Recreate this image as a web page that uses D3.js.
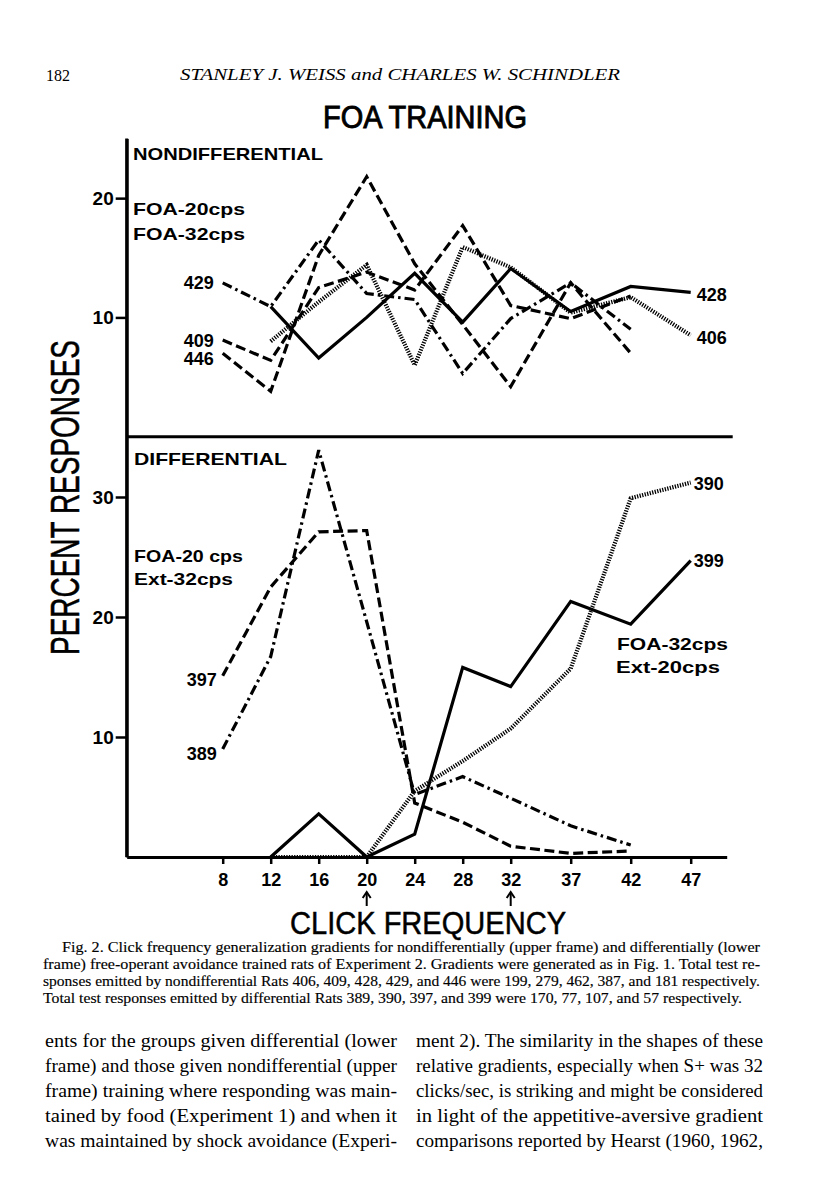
<!DOCTYPE html>
<html><head><meta charset="utf-8">
<script src="https://cdn.jsdelivr.net/npm/d3@7/dist/d3.min.js"></script>
<style>
html,body{margin:0;padding:0;background:#fff;}
svg{display:block;}
</style></head>
<body>
<script>
// ---------- DATA ----------
const freqs = [8, 12, 16, 20, 24, 28, 32, 37, 42, 47];
const xTickLabels = ["8","12","16","20","24","28","32","37","42","47"];
const arrowFreqs = [20, 32];
const upperYTicks = [10, 20];
const lowerYTicks = [10, 20, 30];

// Upper frame: nondifferential rats (percent responses)
const rat428 = [null, 10.9, 6.6, 10.0, 13.7, 9.6, 14.1, 10.5, 12.6, 12.1];
const rat406 = [null, 8.0, 11.3, 14.4, 6.0, 15.9, 14.2, 10.4, 11.7, 8.5];
const rat429 = [12.9, 10.9, 16.5, 12.0, 11.5, 5.3, 9.9, 12.9, 9.0, null];
const rat409 = [8.1, 6.4, 12.5, 13.8, 12.3, 17.7, 11.0, 9.9, 11.8, null];
const rat446 = [7.0, 3.8, 15.2, 21.8, 14.5, 9.4, 4.2, 12.9, 7.0, null];

// Lower frame: differential rats
const rat397 = [15.1, 22.5, 27.1, 27.2, 4.5, 2.9, 0.9, 0.3, 0.5, null];
const rat389 = [9.0, 16.7, 33.9, 19.6, 5.2, 6.7, 4.9, 2.6, 1.0, null];
const rat399 = [null, 0, 3.6, 0, 1.9, 15.8, 14.2, 21.3, 19.4, 24.7];
const rat390 = [null, 0, 0, 0, 5.5, 8.0, 10.7, 15.7, 29.9, 31.2];

const captionLines = [
  "Fig. 2. Click frequency generalization gradients for nondifferentially (upper frame) and differentially (lower",
  "frame) free-operant avoidance trained rats of Experiment 2. Gradients were generated as in Fig. 1. Total test re-",
  "sponses emitted by nondifferential Rats 406, 409, 428, 429, and 446 were 199, 279, 462, 387, and 181 respectively.",
  "Total test responses emitted by differential Rats 389, 390, 397, and 399 were 170, 77, 107, and 57 respectively."
];
const leftColumn = [
  "ents for the groups given differential (lower",
  "frame) and those given nondifferential (upper",
  "frame) training where responding was main-",
  "tained by food (Experiment 1) and when it",
  "was maintained by shock avoidance (Experi-"
];
const rightColumn = [
  "ment 2). The similarity in the shapes of these",
  "relative gradients, especially when S+ was 32",
  "clicks/sec, is striking and might be considered",
  "in light of the appetitive-aversive gradient",
  "comparisons reported by Hearst (1960, 1962,"
];

// ---------- DRAWING ----------
const W = 816, H = 1200;
const svg = d3.select("body").append("svg").attr("width", W).attr("height", H);
const SANS = "'Liberation Sans', Arial, sans-serif";
const SERIF = "'Liberation Serif', 'Times New Roman', serif";

const x = d3.scaleLinear().domain([0, 50]).range([126.7, 726.7]);
const yU = d3.scaleLinear().domain([0, 25]).range([436.7, 138.5]);
const yL = d3.scaleLinear().domain([0, 35]).range([857, 437]);

const styles = {
  solid:   {dash: null,           w: 3.2},
  dashed:  {dash: "10,4.5",       w: 3.2},
  dashdot: {dash: "10,4,2.5,4",   w: 3.2},
  dotted:  {dash: "1.3,1.3",      w: 4.2}
};

function drawSeries(vals, yScale, style) {
  const pts = freqs.map((f, i) => ({f, v: vals[i]}));
  const line = d3.line().defined(d => d.v != null)
    .x(d => x(d.f)).y(d => yScale(d.v));
  const st = styles[style];
  svg.append("path").datum(pts)
    .attr("d", line)
    .attr("fill", "none")
    .attr("stroke", "#000")
    .attr("stroke-width", st.w)
    .attr("stroke-linejoin", "miter")
    .attr("stroke-dasharray", st.dash);
}

// Axes
const gU = svg.append("g").attr("transform", `translate(${x(0)},0)`)
  .call(d3.axisLeft(yU).tickValues(upperYTicks).tickSize(11).tickPadding(2).tickSizeOuter(0));
const gL = svg.append("g").attr("transform", `translate(${x(0)},0)`)
  .call(d3.axisLeft(yL).tickValues(lowerYTicks).tickSize(11).tickPadding(2).tickSizeOuter(0));
const gX = svg.append("g").attr("transform", `translate(0,${yL(0)})`)
  .call(d3.axisBottom(x).tickValues(freqs).tickFormat((d, i) => xTickLabels[i])
    .tickSize(7).tickPadding(9).tickSizeOuter(0));
[gU, gL, gX].forEach(g => {
  g.selectAll("path.domain").attr("stroke", "#000").attr("stroke-width", 3);
  g.selectAll(".tick line").attr("stroke", "#000").attr("stroke-width", 2.5);
  g.selectAll("text").attr("fill", "#000").attr("font-family", SANS)
    .attr("font-weight", "bold").attr("font-size", 19);
});
gX.selectAll("text").attr("font-size", 18);
// extend left axis to top and divider
svg.append("line").attr("x1", x(0)).attr("x2", x(0)).attr("y1", yU(25)).attr("y2", yL(0))
  .attr("stroke", "#000").attr("stroke-width", 3);
svg.append("line").attr("x1", x(0)).attr("x2", x(50.5)).attr("y1", yU(0)).attr("y2", yU(0))
  .attr("stroke", "#000").attr("stroke-width", 3);

// Series
drawSeries(rat428, yU, "solid");
drawSeries(rat406, yU, "dotted");
drawSeries(rat429, yU, "dashdot");
drawSeries(rat409, yU, "dashed");
drawSeries(rat446, yU, "dashed");
drawSeries(rat397, yL, "dashed");
drawSeries(rat389, yL, "dashdot");
drawSeries(rat399, yL, "solid");
drawSeries(rat390, yL, "dotted");

function txt(t, px, py, o = {}) {
  const el = svg.append("text").attr("x", px).attr("y", py).text(t)
    .attr("font-family", o.family || SANS)
    .attr("font-size", o.size || 17)
    .attr("font-weight", o.weight || "bold")
    .attr("font-style", o.style || "normal")
    .attr("text-anchor", o.anchor || "start")
    .attr("fill", "#000");
  if (o.len) el.attr("textLength", o.len).attr("lengthAdjust", o.adj || "spacingAndGlyphs");
  if (o.rot) el.attr("transform", `rotate(${o.rot},${px},${py})`);
  if (o.thick) el.attr("stroke", "#000").attr("stroke-width", o.thick);
  return el;
}

// Series labels
const i8 = 0, i47 = 9;
txt("429", x(8) - 9, yU(rat429[i8]) + 6, {anchor: "end", size: 18});
txt("409", x(8) - 9, yU(rat409[i8]) + 7, {anchor: "end", size: 18});
txt("446", x(8) - 9, yU(rat446[i8]) + 12, {anchor: "end", size: 18});
txt("428", x(47) + 6, yU(rat428[i47]) + 9, {size: 18});
txt("406", x(47) + 6, yU(rat406[i47]) + 9, {size: 18});
txt("397", x(8) - 6, yL(rat397[i8]) + 10, {anchor: "end", size: 18});
txt("389", x(8) - 6, yL(rat389[i8]) + 11, {anchor: "end", size: 18});
txt("390", x(47) + 3, yL(rat390[i47]) + 7, {size: 18});
txt("399", x(47) + 3, yL(rat399[i47]) + 6, {size: 18});

// Frame annotations
txt("NONDIFFERENTIAL", 133, 160, {size: 17, len: 190});
txt("FOA-20cps", 133, 215, {size: 17, len: 112});
txt("FOA-32cps", 133, 240, {size: 17, len: 112});
txt("DIFFERENTIAL", 134, 465, {size: 17, len: 153});
txt("FOA-20 cps", 134, 562, {size: 17, len: 109});
txt("Ext-32cps", 134, 585, {size: 17, len: 99});
txt("FOA-32cps", 617, 650, {size: 17, len: 111});
txt("Ext-20cps", 616, 673, {size: 17, len: 104});

// Arrows under 20 and 32
arrowFreqs.forEach(f => {
  const cx = x(f);
  svg.append("line").attr("x1", cx).attr("x2", cx).attr("y1", 893).attr("y2", 906)
    .attr("stroke", "#000").attr("stroke-width", 2);
  svg.append("path").attr("d", `M${cx - 4},${898} L${cx},${892} L${cx + 4},${898}`)
    .attr("fill", "none").attr("stroke", "#000").attr("stroke-width", 2);
});

// Axis titles & heading
txt("CLICK FREQUENCY", 290, 934, {size: 32, weight: "normal", len: 276, thick: 0.5});
txt("PERCENT RESPONSES", 79, 655, {size: 40, weight: "normal", len: 315, rot: -90, thick: 0.5});
txt("FOA TRAINING", 323, 128, {size: 31, weight: "normal", len: 204, thick: 0.9});

// Running head
txt("182", 46, 81, {family: SERIF, size: 16, weight: "normal"});
txt("STANLEY J. WEISS and CHARLES W. SCHINDLER", 180, 80,
    {family: SERIF, size: 17, weight: "normal", style: "italic", len: 440});

// Caption
const capY = [952, 969, 986, 1003];
captionLines.forEach((l, i) => {
  const x0 = i === 0 ? 62 : 43;
  const len = i === 3 ? 699 : 760 - x0;
  txt(l, x0, capY[i], {family: SERIF, size: 14.6, weight: "normal", len, adj: "spacingAndGlyphs", thick: 0.15});
});

// Body text
const bodyY = [1047, 1072, 1097, 1122, 1147];
leftColumn.forEach((l, i) => txt(l, 45, bodyY[i], {family: SERIF, size: 18.5, weight: "normal", len: 352, adj: "spacingAndGlyphs"}));
rightColumn.forEach((l, i) => txt(l, 416, bodyY[i], {family: SERIF, size: 18.5, weight: "normal", len: 347, adj: "spacingAndGlyphs"}));
</script>
</body></html>
